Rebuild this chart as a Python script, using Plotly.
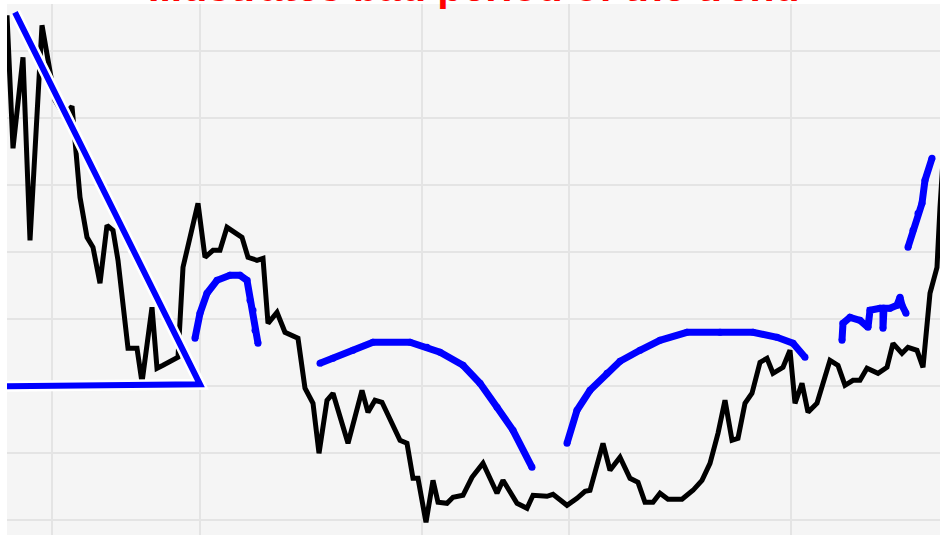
import plotly.graph_objects as go

# ---- data (arbitrary units) ----
price_x = [0, 6, 16, 23, 35, 48, 57, 65, 73, 80, 86, 93, 100, 106, 111, 121, 130, 135, 145, 150,
           156, 166, 171, 176, 191, 198, 206, 213, 220, 235, 241, 250, 256, 261, 270, 278, 286, 291,
           298, 306, 312, 320, 326, 341, 355, 361, 368, 375, 393, 400, 406, 411, 419, 426, 431, 440,
           446, 456, 465, 476, 490, 496, 510, 520, 526, 540, 546, 560, 570, 578, 583, 596, 603, 613,
           623, 631, 638, 646, 653, 661, 675, 686, 695, 703, 711, 718, 725, 731, 738, 745, 753, 760,
           766, 776, 783, 788, 795, 801, 810, 823, 831, 838, 846, 853, 860, 871, 880, 886, 895, 901,
           910, 916, 923, 930, 933, 936]
price_y = [505, 372, 463, 280, 495, 420, 405, 414, 323, 283, 273, 237, 295, 290, 260, 172, 172, 138,
           213, 152, 155, 160, 163, 253, 317, 263, 270, 270, 293, 283, 263, 260, 262, 197, 208, 188,
           185, 182, 132, 117, 67, 120, 127, 77, 130, 108, 120, 118, 80, 77, 42, 42, -2, 40, 18, 17,
           23, 25, 43, 57, 27, 40, 17, 12, 25, 24, 26, 15, 22, 29, 30, 77, 50, 63, 42, 38, 18, 18,
           27, 21, 21, 30, 40, 57, 87, 120, 80, 82, 117, 127, 158, 162, 147, 153, 170, 117, 137, 108,
           117, 160, 155, 135, 140, 140, 152, 147, 153, 177, 167, 173, 170, 153, 227, 253, 313, 360]

trend_x = [0, 193, 8]
trend_y = [134, 136, 508]

arc1_x = [188, 193, 200, 210, 223, 233, 240, 243, 246, 248, 251]
arc1_y = [182, 207, 227, 240, 245, 245, 240, 220, 210, 190, 177]

arc2_x = [313, 326, 346, 366, 403, 420, 433, 456, 473, 490, 506, 525]
arc2_y = [157, 162, 170, 178, 178, 173, 168, 155, 137, 113, 90, 53]

arc3_x = [560, 570, 583, 600, 613, 633, 653, 680, 713, 746, 770, 786, 798]
arc3_y = [77, 110, 130, 147, 159, 170, 180, 188, 188, 188, 183, 177, 163]

seg4_x = [835, 836, 843, 853, 861, 863, 873, 876, 876, 877, 883, 890, 893, 895, 899]
seg4_y = [180, 197, 203, 200, 193, 210, 212, 212, 192, 212, 212, 215, 223, 215, 207]

seg5_x = [901, 906, 911, 915, 918, 925]
seg5_y = [273, 290, 307, 317, 340, 362]

grid_x = [45, 193, 414.5, 562, 784]

title_text = "Illustrates bad period of the trend"

BLUE = "#0000ff"

fig = go.Figure()

fig.add_trace(go.Scatter(x=price_x, y=price_y, mode="lines",
                         line=dict(color="black", width=5), hoverinfo="skip"))

# triangle with white halo
fig.add_trace(go.Scatter(x=trend_x, y=trend_y, mode="lines",
                         line=dict(color="white", width=11), hoverinfo="skip"))
fig.add_trace(go.Scatter(x=trend_x, y=trend_y, mode="lines",
                         line=dict(color=BLUE, width=6), hoverinfo="skip"))

for xs, ys in [(arc1_x, arc1_y), (arc2_x, arc2_y), (arc3_x, arc3_y),
               (seg4_x, seg4_y), (seg5_x, seg5_y)]:
    fig.add_trace(go.Scatter(x=xs, y=ys, mode="lines+markers",
                             line=dict(color=BLUE, width=7),
                             marker=dict(color=BLUE, size=7),
                             hoverinfo="skip"))

fig.add_annotation(text="<b>" + title_text + "</b>", xref="paper", yref="paper",
                   x=0.5, y=1, xanchor="center", yanchor="bottom", yshift=-8,
                   showarrow=False,
                   font=dict(family="Liberation Sans, Arial, sans-serif", size=41, color="#ff0000"))

fig.update_layout(
    width=940, height=535,
    margin=dict(l=7, r=0, t=4, b=0),
    paper_bgcolor="white",
    plot_bgcolor="#f5f5f5",
    showlegend=False,
    xaxis=dict(range=[0, 933], tickvals=grid_x, showticklabels=False,
               showgrid=True, gridcolor="#e4e4e4", gridwidth=1.5, zeroline=False,
               showline=False, ticks=""),
    yaxis=dict(range=[-14.7, 516.3], tick0=0, dtick=67.08, showticklabels=False,
               showgrid=True, gridcolor="#e4e4e4", gridwidth=1.5, zeroline=False,
               showline=False, ticks=""),
)

fig.write_html("out.html", config={"displayModeBar": False},
               post_script="document.body.style.margin='0';")
